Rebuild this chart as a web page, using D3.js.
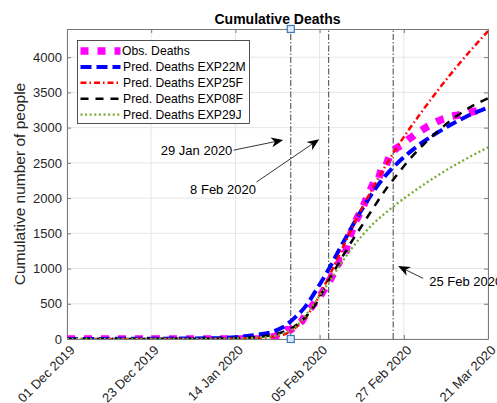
<!DOCTYPE html>
<html>
<head>
<meta charset="utf-8">
<script src="https://cdn.jsdelivr.net/npm/d3@7"></script>
<style>
	html, body { margin: 0; padding: 0; background: #fff; }
	svg { display: block; font-family: 'Liberation Sans', Arial, sans-serif; }
</style>
</head>
<body>
<div id="chart"></div>
<script>
//data
const startDate = '2019-12-01';
const endDate = '2020-03-21';

const xTickDates = ['2019-12-01 00:00', '2019-12-23 04:48', '2020-01-14 09:36', '2020-02-05 14:24', '2020-02-27 19:12', '2020-03-21 00:00'];
const xTickLabels = ['01 Dec 2019', '23 Dec 2019', '14 Jan 2020', '05 Feb 2020', '27 Feb 2020', '21 Mar 2020'];
const yTicks = [0, 500, 1000, 1500, 2000, 2500, 3000, 3500, 4000];
const yMax = 4400;

// observed: flat zero before first report, then daily cumulative deaths
const obsZeroDates = ['2019-12-01', '2020-01-21'];
const obsFirstDate = '2020-01-22';
const obsDeaths = [17, 18, 26, 42, 56, 82, 131, 133, 171, 213, 259, 361, 425, 490, 562, 632, 717, 804, 904, 1011,
	1111, 1116, 1368, 1520, 1662, 1765, 1863, 2002, 2114, 2236, 2236, 2441, 2443, 2593, 2663, 2715, 2744, 2788, 2835,
	2870, 2912, 2945, 2981, 3013, 3042, 3070, 3097, 3120, 3136, 3158, 3169, 3176, 3189, 3199, 3213, 3226, 3237, 3245, 3249];

// predictions, read at these days after 01 Dec 2019
const predDays = [0, 40, 46, 50, 54, 57, 60, 63, 66, 69, 72, 75, 78, 81, 84, 87, 90, 94, 98, 102, 106, 111];
const predExp22M = [0, 12, 35, 60, 100, 170, 300, 470, 720, 990, 1290, 1580, 1860, 2110, 2320, 2490, 2635, 2800, 2940, 3065, 3175, 3285];
const predExp25F = [0, 2, 6, 12, 30, 60, 150, 310, 560, 880, 1220, 1560, 1880, 2180, 2460, 2720, 2960, 3260, 3545, 3815, 4070, 4370];
const predExp08F = [0, 5, 15, 28, 55, 100, 180, 320, 530, 830, 1110, 1380, 1630, 1880, 2120, 2330, 2530, 2760, 2960, 3135, 3280, 3415];
const predExp29J = [0, 3, 10, 20, 40, 80, 160, 340, 570, 800, 1050, 1280, 1480, 1650, 1790, 1920, 2040, 2190, 2330, 2460, 2580, 2720];

const seriesNames = ['Obs. Deaths', 'Pred. Deaths EXP22M', 'Pred. Deaths EXP25F', 'Pred. Deaths EXP08F', 'Pred. Deaths EXP29J'];

const markerDates = ['2020-01-29', '2020-02-08', '2020-02-25'];
const tipDate = '2020-01-29';
const tipValues = [0, yMax];

// annotations in days after 01 Dec 2019 / values
const notes = [
	{ label: '29 Jan 2020', textDay: 43.6, textValue: 2610, anchor: 'end', fromDay: 43.9, fromValue: 2680, toDay: 57.0, toValue: 2825 },
	{ label: '8 Feb 2020', textDay: 49.8, textValue: 2060, anchor: 'end', fromDay: 50.0, fromValue: 2230, toDay: 66.5, toValue: 2835 },
	{ label: '25 Feb 2020', textDay: 95.5, textValue: 750, anchor: 'start', fromDay: 93.9, fromValue: 860, toDay: 87.3, toValue: 1035 },
];

render();

function render() {
	let properties = {
		width: 497,
		height: 403,
		margin: { top: 29, right: 9, bottom: 64, left: 67 },
		styles: [
			{ color: '#ff00ff', width: 7.5, dash: '8,9' },
			{ color: '#0000ff', width: 4, dash: '11,5' },
			{ color: '#ff0000', width: 2.5, dash: '6,3,1.5,3' },
			{ color: '#000000', width: 2.5, dash: '8,7' },
			{ color: '#77ac30', width: 2.3, dash: '2,2.6' },
		],
	};
	createVisualization(d3.select('#chart'), properties);
}

function createVisualization(container, props) {
	let { width, height, margin, styles } = props;
	const parseDay = d3.timeParse('%Y-%m-%d');
	const parseTime = d3.timeParse('%Y-%m-%d %H:%M');
	const t0 = parseDay(startDate);
	const dayDate = (d) => t0.getTime() + d * 864e5;

	const x = d3.scaleTime()
		.domain([t0, parseDay(endDate)])
		.range([margin.left, width - margin.right]);
	const y = d3.scaleLinear()
		.domain([0, yMax])
		.range([height - margin.bottom, margin.top]);

	const x0 = x.range()[0], x1 = x.range()[1];
	const y0 = y.range()[0], y1 = y.range()[1];

	// build series
	const obs = obsZeroDates.map((d) => ({ date: parseDay(d), value: 0 }))
		.concat(obsDeaths.map((v, i) => ({ date: d3.timeDay.offset(parseDay(obsFirstDate), i), value: v })));
	const predSeries = [predExp22M, predExp25F, predExp08F, predExp29J].map((vals) =>
		vals.map((v, i) => ({ date: new Date(dayDate(predDays[i])), value: v }))
	);
	const allSeries = [obs].concat(predSeries);

	const svg = container.append('svg')
		.attr('width', width)
		.attr('height', height);

	svg.append('defs').append('clipPath').attr('id', 'plot-clip')
		.append('rect')
		.attr('x', x0).attr('y', y1)
		.attr('width', x1 - x0).attr('height', y0 - y1);

	// grid
	const tickDates = xTickDates.map(parseTime);
	svg.append('g').selectAll('line.gx').data(tickDates).join('line')
		.attr('x1', (d) => x(d)).attr('x2', (d) => x(d))
		.attr('y1', y0).attr('y2', y1)
		.style('stroke', '#e6e6e6').style('stroke-width', 1);
	svg.append('g').selectAll('line.gy').data(yTicks).join('line')
		.attr('x1', x0).attr('x2', x1)
		.attr('y1', (d) => y(d)).attr('y2', (d) => y(d))
		.style('stroke', '#e6e6e6').style('stroke-width', 1);

	// axes
	const xAxis = d3.axisBottom(x).tickValues(tickDates).tickSizeInner(-4).tickSizeOuter(0)
		.tickFormat((d, i) => xTickLabels[i]);
	const gx = svg.append('g').attr('transform', translation(0, y0)).call(xAxis);
	gx.selectAll('text')
		.attr('x', 0).attr('y', 0).attr('dy', 0)
		.attr('transform', 'translate(8,12) rotate(-45)')
		.style('text-anchor', 'end');

	const yAxis = d3.axisLeft(y).tickValues(yTicks).tickSizeInner(-4).tickSizeOuter(0).tickPadding(5)
		.tickFormat(d3.format('d'));
	svg.append('g').attr('transform', translation(x0, 0)).call(yAxis);

	svg.append('g').attr('transform', translation(0, y1))
		.call(d3.axisTop(x).tickValues(tickDates).tickSizeInner(-4).tickSizeOuter(0).tickFormat(''));
	svg.append('g').attr('transform', translation(x1, 0))
		.call(d3.axisRight(y).tickValues(yTicks).tickSizeInner(-4).tickSizeOuter(0).tickFormat(''));

	svg.selectAll('.tick line').style('stroke', '#7a7a7a');
	svg.selectAll('.domain').style('stroke', '#7a7a7a');
	svg.selectAll('.tick text')
		.style('font-family', "'Liberation Sans', Arial, sans-serif")
		.style('font-size', '13px')
		.style('fill', '#262626');

	// marker lines
	svg.append('g').selectAll('line').data(markerDates).join('line')
		.attr('x1', (d) => x(parseDay(d))).attr('x2', (d) => x(parseDay(d)))
		.attr('y1', y0).attr('y2', y1)
		.style('stroke', '#404040').style('stroke-width', 1)
		.style('stroke-dasharray', '6,2,1.5,2');

	// series
	const line = d3.line()
		.x((d) => x(d.date))
		.y((d) => y(d.value));
	const plot = svg.append('g').attr('clip-path', 'url(#plot-clip)');
	plot.selectAll('path').data(allSeries).join('path')
		.attr('d', (d, i) => line.curve(i === 0 ? d3.curveLinear : d3.curveMonotoneX)(d))
		.style('fill', 'none')
		.style('stroke', (d, i) => styles[i].color)
		.style('stroke-width', (d, i) => styles[i].width)
		.style('stroke-dasharray', (d, i) => styles[i].dash);

	// data tips
	svg.append('g').selectAll('rect').data(tipValues).join('rect')
		.attr('x', x(parseDay(tipDate)) - 3.5).attr('y', (d) => y(d) - 3.5)
		.attr('width', 7).attr('height', 7)
		.style('fill', '#dceaf7').style('stroke', '#3d7ab8').style('stroke-width', 1.2);

	// annotations
	const notesG = svg.append('g');
	notes.forEach((n) => {
		const ax = x(dayDate(n.fromDay)), ay = y(n.fromValue);
		const bx = x(dayDate(n.toDay)), by = y(n.toValue);
		const ang = Math.atan2(by - ay, bx - ax);
		const len = 12, hw = 5, notch = 8.5;
		const ux = Math.cos(ang), uy = Math.sin(ang);
		const px = -uy, py = ux;
		notesG.append('line')
			.attr('x1', ax).attr('y1', ay)
			.attr('x2', bx - ux * notch).attr('y2', by - uy * notch)
			.style('stroke', '#000').style('stroke-width', 0.8);
		const head = [
			[bx, by],
			[bx - ux * len + px * hw, by - uy * len + py * hw],
			[bx - ux * notch, by - uy * notch],
			[bx - ux * len - px * hw, by - uy * len - py * hw],
		];
		notesG.append('path')
			.attr('d', 'M' + head.map((p) => p.join(',')).join('L') + 'Z')
			.style('fill', '#000');
		notesG.append('text')
			.attr('x', x(dayDate(n.textDay)))
			.attr('y', y(n.textValue))
			.style('text-anchor', n.anchor)
			.style('font-size', '13px')
			.style('fill', '#000')
			.text(n.label);
	});

	// legend
	const lg = svg.append('g');
	lg.append('rect')
		.attr('x', 77.5).attr('y', 40.5)
		.attr('width', 172).attr('height', 83)
		.style('fill', '#fff').style('stroke', '#262626').style('stroke-width', 0.8);
	const rows = lg.selectAll('g.row').data(seriesNames).join('g')
		.attr('transform', (d, i) => translation(0, 51 + i * 15.9));
	rows.append('line')
		.attr('x1', 80.5).attr('x2', 120.5)
		.style('stroke', (d, i) => styles[i].color)
		.style('stroke-width', (d, i) => (i === 0 ? 7.5 : styles[i].width))
		.style('stroke-dasharray', (d, i) => styles[i].dash);
	rows.append('text')
		.attr('x', (d, i) => (i === 0 ? 122 : 123))
		.attr('dy', '0.36em')
		.style('font-size', '12.2px')
		.style('fill', '#000')
		.text((d) => d);

	// title and labels
	svg.append('text')
		.attr('x', (x0 + x1) / 2).attr('y', 24)
		.style('text-anchor', 'middle')
		.style('font-weight', 'bold')
		.style('font-size', '14px')
		.style('fill', '#000')
		.text('Cumulative Deaths');

	svg.append('text')
		.attr('transform', translation(25, (y0 + y1) / 2) + ' rotate(-90)')
		.style('text-anchor', 'middle')
		.style('font-size', '15.5px')
		.style('fill', '#262626')
		.text('Cumulative number of people');
}

//utils
function translation(x, y) {
	return `translate(${x}, ${y})`;
}
</script>
</body>
</html>
